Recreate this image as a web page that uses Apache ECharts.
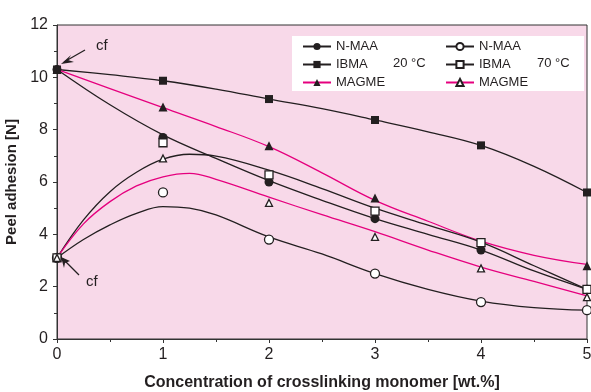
<!DOCTYPE html>
<html><head><meta charset="utf-8">
<script src="https://cdn.jsdelivr.net/npm/echarts@6/dist/echarts.min.js"></script>
<style>html,body{margin:0;padding:0;background:#fff}#c{width:591px;height:392px}</style>
</head><body><div id="c"></div>
<script>
// measured points
const xPoints = [0, 1, 2, 3, 4, 5];
const nmaa20 = [10.3, 7.7, 6.0, 4.6, 3.4, 1.9];
const ibma20 = [10.3, 9.87, 9.17, 8.37, 7.4, 5.6];
const magme20 = [10.3, 8.87, 7.39, 5.39, 3.7, 2.8];
const nmaa70 = [3.1, 5.6, 3.8, 2.5, 1.41, 1.1];
const ibma70 = [3.1, 7.5, 6.27, 4.89, 3.68, 1.9];
const magme70 = [3.1, 6.9, 5.2, 3.9, 2.7, 1.6];
// fitted curves
const xFit20 = [0, 0.5, 1, 1.5, 2, 2.5, 3, 3.5, 4, 4.5, 5];
const fitNmaa20 = [10.3, 8.95, 7.8, 6.9, 6.05, 5.3, 4.6, 4.0, 3.4, 2.6, 1.9];
const fitIbma20 = [10.3, 10.1, 9.87, 9.55, 9.17, 8.8, 8.37, 7.92, 7.4, 6.6, 5.6];
const fitMagme20 = [10.3, 9.57, 8.84, 8.12, 7.35, 6.35, 5.3, 4.5, 3.74, 3.2, 2.85];
const xFit70 = [0, 0.25, 0.5, 0.75, 1, 1.25, 1.5, 2, 2.5, 3, 3.5, 4, 4.5, 5];
const fitNmaa70 = [3.1, 3.8, 4.36, 4.8, 5.06, 5.0, 4.74, 3.9, 3.25, 2.5, 1.9, 1.45, 1.2, 1.1];
const fitIbma70 = [3.1, 4.55, 5.63, 6.37, 6.87, 7.06, 6.99, 6.45, 5.75, 5.0, 4.35, 3.7, 2.8, 1.9];
const fitMagme70 = [3.1, 4.4, 5.25, 5.85, 6.2, 6.33, 6.1, 5.42, 4.75, 4.1, 3.4, 2.75, 2.2, 1.65];
const xTicks = [0, 1, 2, 3, 4, 5];
const yTicks = [0, 2, 4, 6, 8, 10, 12];

const BLACK = '#231f20', MAG = '#e5007e';
const FONT = 'Liberation Sans, Arial, sans-serif';
const pair = (xs, ys) => xs.map((x, i) => [x, ys[i]]);

const defs = [
  {name: 'N-MAA 20', xs: xFit20, fit: fitNmaa20, pts: nmaa20, color: BLACK, symbol: 'circle', size: 9, fill: BLACK},
  {name: 'IBMA 20', xs: xFit20, fit: fitIbma20, pts: ibma20, color: BLACK, symbol: 'rect', size: 8, fill: BLACK},
  {name: 'MAGME 20', xs: xFit20, fit: fitMagme20, pts: magme20, color: MAG, symbol: 'triangle', size: 9, fill: BLACK},
  {name: 'N-MAA 70', xs: xFit70, fit: fitNmaa70, pts: nmaa70, color: BLACK, symbol: 'circle', size: 9, fill: '#fff'},
  {name: 'IBMA 70', xs: xFit70, fit: fitIbma70, pts: ibma70, color: BLACK, symbol: 'rect', size: 8, fill: '#fff'},
  {name: 'MAGME 70', xs: xFit70, fit: fitMagme70, pts: magme70, color: MAG, symbol: 'triangle', size: 7, fill: '#fff'}
];

const series = [];
defs.forEach(d => {
  series.push({
    name: d.name, type: 'line', smooth: 0.4, showSymbol: false,
    symbol: d.symbol, symbolSize: d.size,
    data: pair(d.xs, d.fit),
    lineStyle: {color: d.color, width: 1.3},
    itemStyle: {color: d.fill, borderColor: BLACK, borderWidth: d.fill === '#fff' ? 1.3 : 0},
    z: 2, silent: true
  });
});
defs.forEach(d => {
  series.push({
    name: d.name + ' pts', type: 'scatter', symbol: d.symbol, symbolSize: d.size,
    data: pair(xPoints, d.pts),
    itemStyle: {color: d.fill, borderColor: BLACK, borderWidth: d.fill === '#fff' ? 1.3 : 0, opacity: 1},
    z: 5, silent: true
  });
});

const legendCommon = {
  orient: 'vertical', itemWidth: 28, itemHeight: 9, itemGap: 5,
  textStyle: {fontFamily: FONT, fontSize: 13, color: BLACK},
  formatter: n => n.split(' ')[0], selectedMode: false, padding: 0
};

const chart = echarts.init(document.getElementById('c'), null, {renderer: 'canvas'});
chart.setOption({
  animation: false,
  grid: {left: 57, right: 4, top: 25, bottom: 53, containLabel: false, outerBoundsMode: 'none',
    show: true, backgroundColor: '#f8d9e9', borderColor: '#333', borderWidth: 1},
  xAxis: {
    type: 'value', min: 0, max: 5, interval: 1,
    axisLine: {lineStyle: {color: '#333', width: 1}},
    axisTick: {inside: false, length: 4, lineStyle: {color: '#333'}},
    minorTick: {show: true, splitNumber: 2, length: 3, lineStyle: {color: '#333'}},
    splitLine: {show: false},
    axisLabel: {fontFamily: FONT, fontSize: 16, color: BLACK, margin: 8,
      formatter: v => xTicks.includes(v) ? String(v) : ''},
    name: 'Concentration of crosslinking monomer [wt.%]', nameLocation: 'middle', nameGap: 36,
    nameTextStyle: {fontFamily: FONT, fontSize: 16, fontWeight: 'bold', color: BLACK}
  },
  yAxis: {
    type: 'value', min: 0, max: 12, interval: 2,
    axisLine: {show: true, lineStyle: {color: '#333', width: 1}},
    axisTick: {show: true, inside: false, length: 4, lineStyle: {color: '#333'}},
    minorTick: {show: true, splitNumber: 2, length: 3, lineStyle: {color: '#333'}},
    splitLine: {show: false},
    axisLabel: {fontFamily: FONT, fontSize: 16, color: BLACK, margin: 9,
      formatter: v => yTicks.includes(v) ? String(v) : ''},
    name: 'Peel adhesion [N]', nameLocation: 'middle', nameGap: 35,
    nameTextStyle: {fontFamily: FONT, fontSize: 15, fontWeight: 'bold', color: BLACK}
  },
  legend: [
    Object.assign({left: 302, top: 40, data: ['N-MAA 20', 'IBMA 20', 'MAGME 20']}, legendCommon),
    Object.assign({left: 445, top: 40, data: ['N-MAA 70', 'IBMA 70', 'MAGME 70']}, legendCommon)
  ],
  graphic: [
    {type: 'rect', left: 292, top: 36, shape: {width: 292, height: 55}, style: {fill: '#fff'}, z: 0, silent: true},
    {type: 'text', left: 393, top: 57, style: {text: '20 °C', font: '13px ' + FONT, fill: BLACK}, z: 100},
    {type: 'text', left: 537, top: 57, style: {text: '70 °C', font: '13px ' + FONT, fill: BLACK}, z: 100},
    {type: 'text', left: 96, top: 38, style: {text: 'cf', font: '15px ' + FONT, fill: BLACK}, z: 100},
    {type: 'text', left: 86, top: 274, style: {text: 'cf', font: '15px ' + FONT, fill: BLACK}, z: 100},
    {type: 'line', shape: {x1: 85, y1: 50, x2: 64, y2: 62}, style: {stroke: BLACK, lineWidth: 1.2}, z: 100},
    {type: 'polygon', shape: {points: [[61, 64], [71, 55], [68, 60], [74, 62]]}, style: {fill: BLACK}, z: 100},
    {type: 'line', shape: {x1: 79, y1: 275, x2: 63, y2: 259}, style: {stroke: BLACK, lineWidth: 1.2}, z: 100},
    {type: 'polygon', shape: {points: [[61, 257], [64, 268], [65, 263], [70, 261]]}, style: {fill: BLACK}, z: 100}
  ],
  series: series
});
</script></body></html>
